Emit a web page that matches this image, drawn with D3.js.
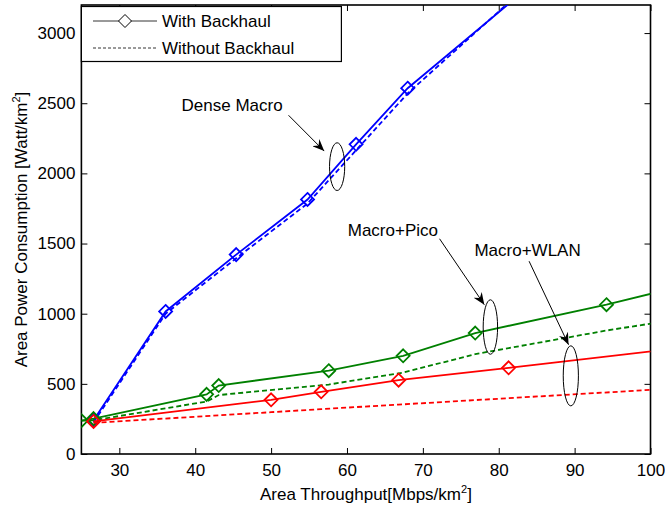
<!DOCTYPE html>
<html>
<head>
<meta charset="utf-8">
<script src="https://cdn.jsdelivr.net/npm/d3@7"></script>
<style>
  body { margin: 0; background: #fff; }
  text { font-family: "Liberation Sans", Arial, Helvetica, sans-serif; fill: #000; }
</style>
</head>
<body>
<div id="chart"></div>
<script>
// x = area throughput [Mbps/km2], y = area power consumption [Watt/km2]
const macroX       = [26.6, 36.1, 45.4, 54.8, 61.2, 68.0, 90];
const macroWith    = [240, 1016, 1421, 1814, 2207, 2607, 3600];
const macroWithout = [225, 1000, 1395, 1785, 2165, 2570, 3640];

const picoX       = [25.0, 26.6, 41.5, 43.1, 57.6, 67.4, 76.9, 94.2, 106];
const picoWith    = [238, 252, 425, 488, 594, 700, 862, 1064, 1221];
const picoWithout = [238, 240, 374, 420, 495, 580, 712, 880, 980];

const wlanX       = [26.6, 50.0, 56.6, 66.8, 81.3, 105];
const wlanWith    = [232, 386, 443, 526, 614, 762];
const wlanWithout = [222, 298, 320, 352, 398, 473];

const xTicks = [30, 40, 50, 60, 70, 80, 90, 100];
const yTicks = [0, 500, 1000, 1500, 2000, 2500, 3000];

const width = 665;
const height = 510;
const m = { left: 81.4, right: 650.5, top: 5, bottom: 454 };

const x = d3.scaleLinear().domain([25, 100]).range([m.left, m.right]);
const y = d3.scaleLinear().domain([0, 3200]).range([m.bottom, m.top]);

const svg = d3.select("#chart")
    .append("svg")
    .attr("width", width)
    .attr("height", height);

const defs = svg.append("defs");
defs.append("clipPath")
    .attr("id", "plot-clip")
    .append("rect")
    .attr("x", m.left)
    .attr("y", m.top)
    .attr("width", m.right - m.left)
    .attr("height", m.bottom - m.top);

defs.append("marker")
    .attr("id", "arrowhead")
    .attr("viewBox", "0 0 12 10")
    .attr("refX", 12)
    .attr("refY", 5)
    .attr("markerWidth", 12)
    .attr("markerHeight", 10)
    .attr("markerUnits", "userSpaceOnUse")
    .attr("orient", "auto")
    .append("path")
    .attr("d", "M0,0 L12,5 L0,10 L4,5 Z")
    .attr("fill", "#000");

// axes with ticks on all sides, pointing inward
const tickLen = 6;
svg.append("g")
    .attr("id", "x-axis")
    .attr("transform", "translate(0," + m.bottom + ")")
    .call(d3.axisBottom(x).tickValues(xTicks).tickSizeInner(-tickLen).tickSizeOuter(0).tickPadding(10))
    .call(g => g.select(".domain").remove())
    .call(g => g.selectAll("text").attr("font-size", 17));

svg.append("g")
    .attr("transform", "translate(0," + m.top + ")")
    .call(d3.axisTop(x).tickValues(xTicks).tickSizeInner(-tickLen).tickSizeOuter(0).tickFormat(""))
    .call(g => g.select(".domain").remove());

svg.append("g")
    .attr("id", "y-axis")
    .attr("transform", "translate(" + m.left + ",0)")
    .call(d3.axisLeft(y).tickValues(yTicks).tickFormat(d3.format("d"))
        .tickSizeInner(-tickLen).tickSizeOuter(0).tickPadding(6))
    .call(g => g.select(".domain").remove())
    .call(g => g.selectAll("text").attr("font-size", 17));

svg.append("g")
    .attr("transform", "translate(" + m.right + ",0)")
    .call(d3.axisRight(y).tickValues(yTicks).tickSizeInner(-tickLen).tickSizeOuter(0).tickFormat(""))
    .call(g => g.select(".domain").remove());

svg.selectAll(".tick line").attr("stroke", "#000").attr("stroke-width", 1);

svg.append("rect")
    .attr("x", m.left)
    .attr("y", m.top)
    .attr("width", m.right - m.left)
    .attr("height", m.bottom - m.top)
    .attr("fill", "none")
    .attr("stroke", "#000")
    .attr("stroke-width", 1.6);

// series
const series = [
    { xs: macroX, ys: macroWith,    color: "#0000ff", dash: null,  marker: true },
    { xs: macroX, ys: macroWithout, color: "#0000ff", dash: "5,3", marker: false },
    { xs: picoX,  ys: picoWith,     color: "#008000", dash: null,  marker: true },
    { xs: picoX,  ys: picoWithout,  color: "#008000", dash: "5,3", marker: false },
    { xs: wlanX,  ys: wlanWith,     color: "#ff0000", dash: null,  marker: true },
    { xs: wlanX,  ys: wlanWithout,  color: "#ff0000", dash: "5,3", marker: false }
];

const line = d3.line().x(d => x(d[0])).y(d => y(d[1]));
const plot = svg.append("g").attr("clip-path", "url(#plot-clip)");
const diamond = "M0,-6.5 L6.5,0 L0,6.5 L-6.5,0 Z";

series.forEach(s => {
    const pts = s.xs.map((v, i) => [v, s.ys[i]]);
    plot.append("path")
        .datum(pts)
        .attr("d", line)
        .attr("fill", "none")
        .attr("stroke", s.color)
        .attr("stroke-width", 1.8)
        .attr("stroke-dasharray", s.dash);
    if (s.marker) {
        plot.selectAll(null)
            .data(pts.filter(p => p[0] >= 25 && p[0] <= 100 && p[1] <= 3200))
            .enter()
            .append("path")
            .attr("d", diamond)
            .attr("transform", p => "translate(" + x(p[0]) + "," + y(p[1]) + ")")
            .attr("fill", "none")
            .attr("stroke", s.color)
            .attr("stroke-width", 1.8);
    }
});

// annotations (data coordinates)
const notes = [
    { label: "Dense Macro", tx: 38.2, ty: 2445, ax: [52.3, 2414], bx: [57.0, 2159], cx: 58.7, cy: 2048, rx: 1.0, ry: 170 },
    { label: "Macro+Pico",  tx: 60.1, ty: 1557, ax: [72.2, 1534], bx: [78.1, 1064], cx: 78.9, cy: 905,  rx: 0.95, ry: 194 },
    { label: "Macro+WLAN",  tx: 76.8, ty: 1409, ax: [84.0, 1374], bx: [89.2, 779],  cx: 89.5, cy: 557,  rx: 1.0, ry: 214 }
];

notes.forEach(n => {
    svg.append("text")
        .attr("x", x(n.tx))
        .attr("y", y(n.ty))
        .attr("font-size", 17)
        .text(n.label);
    svg.append("line")
        .attr("x1", x(n.ax[0])).attr("y1", y(n.ax[1]))
        .attr("x2", x(n.bx[0])).attr("y2", y(n.bx[1]))
        .attr("stroke", "#000")
        .attr("stroke-width", 1)
        .attr("marker-end", "url(#arrowhead)");
    svg.append("ellipse")
        .attr("cx", x(n.cx))
        .attr("cy", y(n.cy))
        .attr("rx", x(25 + n.rx) - x(25))
        .attr("ry", y(0) - y(n.ry))
        .attr("fill", "none")
        .attr("stroke", "#000")
        .attr("stroke-width", 1);
});

// legend
const legend = svg.append("g");
legend.append("rect")
    .attr("x", m.left)
    .attr("y", 6.5)
    .attr("width", 260)
    .attr("height", 55)
    .attr("fill", "#fff")
    .attr("stroke", "#000")
    .attr("stroke-width", 1.2);

const legendRows = [
    { label: "With Backhaul", dash: null, marker: true, yy: 21 },
    { label: "Without Backhaul", dash: "3,2", marker: false, yy: 48 }
];
legendRows.forEach(r => {
    legend.append("line")
        .attr("x1", 93).attr("x2", 157)
        .attr("y1", r.yy).attr("y2", r.yy)
        .attr("stroke", "#000")
        .attr("stroke-width", 0.8)
        .attr("stroke-dasharray", r.dash);
    if (r.marker) {
        legend.append("path")
            .attr("d", diamond)
            .attr("transform", "translate(125," + r.yy + ")")
            .attr("fill", "#fff")
            .attr("stroke", "#000")
            .attr("stroke-width", 1);
    }
    legend.append("text")
        .attr("x", 162)
        .attr("y", r.yy + 6)
        .attr("font-size", 17)
        .text(r.label);
});

// axis labels
const xl = svg.append("text")
    .attr("x", (m.left + m.right) / 2)
    .attr("y", 500)
    .attr("text-anchor", "middle")
    .attr("font-size", 17);
xl.append("tspan").text("Area Throughput[Mbps/km");
xl.append("tspan").attr("dy", -7).attr("font-size", 11).text("2");
xl.append("tspan").attr("dy", 7).text("]");

const yl = svg.append("text")
    .attr("transform", "translate(27," + (m.top + m.bottom) / 2 + ") rotate(-90)")
    .attr("text-anchor", "middle")
    .attr("font-size", 17);
yl.append("tspan").text("Area Power Consumption [Watt/km");
yl.append("tspan").attr("dy", -7).attr("font-size", 11).text("2");
yl.append("tspan").attr("dy", 7).text("]");
</script>
</body>
</html>
